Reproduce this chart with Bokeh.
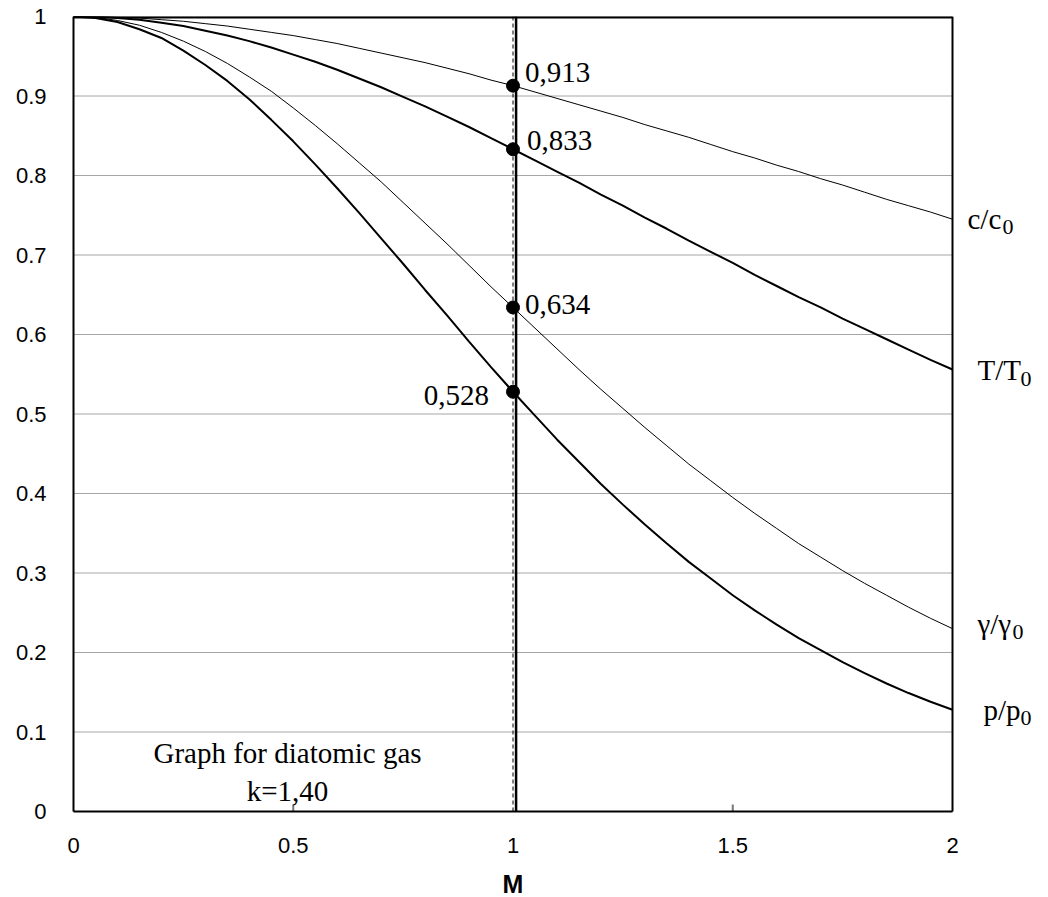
import math
from bokeh.plotting import figure
from bokeh.models import Label, FixedTicker, Range1d
from bokeh.embed import file_html
from bokeh.resources import INLINE

# ---- data ----
mach = [0.00, 0.05, 0.10, 0.15, 0.20, 0.25, 0.30, 0.35, 0.40, 0.45,
        0.50, 0.55, 0.60, 0.65, 0.70, 0.75, 0.80, 0.85, 0.90, 0.95,
        1.00, 1.05, 1.10, 1.15, 1.20, 1.25, 1.30, 1.35, 1.40, 1.45,
        1.50, 1.55, 1.60, 1.65, 1.70, 1.75, 1.80, 1.85, 1.90, 1.95, 2.00]
c_c0 = [1.000, 1.000, 0.999, 0.998, 0.996, 0.994, 0.991, 0.988, 0.984, 0.980,
        0.976, 0.971, 0.966, 0.960, 0.954, 0.948, 0.942, 0.935, 0.928, 0.920,
        0.913, 0.905, 0.897, 0.889, 0.881, 0.873, 0.864, 0.856, 0.848, 0.839,
        0.830, 0.822, 0.813, 0.805, 0.796, 0.788, 0.779, 0.770, 0.762, 0.754, 0.745]
T_T0 = [1.000, 1.000, 0.998, 0.996, 0.992, 0.988, 0.982, 0.976, 0.969, 0.961,
        0.952, 0.943, 0.933, 0.922, 0.911, 0.899, 0.887, 0.874, 0.861, 0.847,
        0.833, 0.819, 0.805, 0.791, 0.776, 0.762, 0.747, 0.733, 0.718, 0.704,
        0.690, 0.675, 0.661, 0.647, 0.634, 0.620, 0.607, 0.594, 0.581, 0.568, 0.556]
g_g0 = [1.000, 0.999, 0.995, 0.989, 0.980, 0.969, 0.956, 0.941, 0.924, 0.906,
        0.885, 0.863, 0.840, 0.816, 0.792, 0.766, 0.740, 0.714, 0.687, 0.660,
        0.634, 0.608, 0.582, 0.556, 0.531, 0.507, 0.483, 0.460, 0.437, 0.416,
        0.395, 0.375, 0.356, 0.337, 0.320, 0.303, 0.287, 0.272, 0.257, 0.243, 0.230]
p_p0 = [1.000, 0.998, 0.993, 0.984, 0.973, 0.957, 0.939, 0.919, 0.896, 0.870,
        0.843, 0.814, 0.784, 0.753, 0.721, 0.689, 0.656, 0.624, 0.591, 0.559,
        0.528, 0.498, 0.468, 0.440, 0.412, 0.386, 0.361, 0.337, 0.314, 0.293,
        0.272, 0.253, 0.235, 0.218, 0.203, 0.188, 0.174, 0.161, 0.149, 0.138, 0.128]

critical_mach = [1.0, 1.0, 1.0, 1.0]
critical_values = [0.913, 0.833, 0.634, 0.528]
critical_texts = ["0,913", "0,833", "0,634", "0,528"]

curve_names = ["c/c", "T/T", "\u03b3/\u03b3", "p/p"]
curve_subscripts = ["0", "0", "0", "0"]

x_ticks = [0, 0.5, 1, 1.5, 2]
x_tick_labels = ["0", "0.5", "1", "1.5", "2"]
x_inner_ticks = [0.5, 1.5]
y_ticks = [0, 0.1, 0.2, 0.3, 0.4, 0.5, 0.6, 0.7, 0.8, 0.9, 1]
y_tick_labels = ["0", "0.1", "0.2", "0.3", "0.4", "0.5", "0.6", "0.7", "0.8", "0.9", "1"]

x_axis_title = "M"
note_lines = ["Graph for diatomic gas", "k=1,40"]

SERIF = "Liberation Serif"
SANS = "Liberation Sans"

# Pixel layout: plotted area 879 x 795 px; the frame is widened on every
# side except the top so that tick labels, curve names and the axis title
# can be placed freely inside it.  The plotted area gets its own border.
PX_X = 879 / 2.0      # px per unit of M
PX_Y = 795 / 1.0      # px per unit of ratio
p = figure(width=1040, height=897, output_backend="svg", toolbar_location=None,
           x_range=Range1d(-13 / PX_X, (1040 - 73) / PX_X),
           y_range=Range1d(-86 / PX_Y, 1),
           x_axis_location=None,
           min_border_left=60, min_border_top=16, min_border_right=0,
           min_border_bottom=0)
p.background_fill_color = "white"
p.border_fill_color = "white"
p.outline_line_color = None
p.xgrid.grid_line_color = None
p.ygrid.grid_line_color = None

# horizontal grid across the plotted area only
p.segment(x0=[x_ticks[0]] * len(y_ticks), x1=[x_ticks[-1]] * len(y_ticks),
          y0=y_ticks, y1=y_ticks, line_color="#a6a6a6", line_width=1)

# y axis
p.yaxis.ticker = FixedTicker(ticks=y_ticks)
p.yaxis.major_label_overrides = {t: l for t, l in zip(y_ticks, y_tick_labels)}
p.yaxis.axis_line_color = None
p.yaxis.minor_tick_line_color = None
p.yaxis.major_tick_line_color = None
p.yaxis.major_label_text_font = SANS
p.yaxis.major_label_text_font_size = "22px"
p.yaxis.major_label_text_color = "black"
p.yaxis.major_label_standoff = 8

# x axis: inner tick marks, tick labels and title
p.ray(x=x_inner_ticks, y=[y_ticks[0]] * len(x_inner_ticks), length=7,
      length_units="screen", angle=math.pi / 2, line_color="#777777", line_width=2)
for t, l in zip(x_ticks, x_tick_labels):
    p.add_layout(Label(x=t, y=y_ticks[0], text=l, y_offset=-34, text_align="center",
                       text_baseline="middle", text_font=SANS, text_font_size="22px",
                       text_color="black"))
p.add_layout(Label(x=x_ticks[2], y=y_ticks[0], text=x_axis_title, y_offset=-72,
                   text_align="center", text_baseline="middle", text_font=SANS,
                   text_font_style="bold", text_font_size="25px", text_color="black"))

# vertical lines at M = 1
p.segment(x0=[1.0], x1=[1.0], y0=[y_ticks[0]], y1=[y_ticks[-1]], line_color="black",
          line_width=1, line_dash="4 3")
p.segment(x0=[1.007], x1=[1.007], y0=[y_ticks[0]], y1=[y_ticks[-1]], line_color="black",
          line_width=2.5)

# curves
p.line(mach, c_c0, line_color="black", line_width=1)
p.line(mach, T_T0, line_color="black", line_width=2)
p.line(mach, g_g0, line_color="black", line_width=1)
p.line(mach, p_p0, line_color="black", line_width=2)

# border of the plotted area (top edge is the frame edge, so drawn wider)
p.segment(x0=[x_ticks[0], x_ticks[-1]], x1=[x_ticks[0], x_ticks[-1]],
          y0=[y_ticks[0], y_ticks[0]], y1=[y_ticks[-1], y_ticks[-1]],
          line_color="black", line_width=2)
p.segment(x0=[x_ticks[0], x_ticks[0]], x1=[x_ticks[-1], x_ticks[-1]],
          y0=[y_ticks[0], y_ticks[-1]], y1=[y_ticks[0], y_ticks[-1]],
          line_color="black", line_width=[2, 4])

# critical points
p.scatter(critical_mach, critical_values, size=13, color="black")

label_offsets = [(12, 13, "left"), (14, 9, "left"), (12, 3, "left"), (-24, -4, "right")]
for mx, v, t, (dx, dy, al) in zip(critical_mach, critical_values, critical_texts, label_offsets):
    p.add_layout(Label(x=mx, y=v, text=t, x_offset=dx, y_offset=dy,
                       text_align=al, text_baseline="middle",
                       text_font=SERIF, text_font_size="29px", text_color="black"))

# curve end labels
ends = [c_c0[-1], T_T0[-1], g_g0[-1], p_p0[-1]]
name_offsets = [(15, 0, 50, -8), (25, -1, 68, -10), (25, 5, 60, -3), (31, 0, 68, -8)]
for v, name, sub, (dx, dy, sdx, sdy) in zip(ends, curve_names, curve_subscripts, name_offsets):
    p.add_layout(Label(x=mach[-1], y=v, text=name, x_offset=dx, y_offset=dy,
                       text_align="left", text_baseline="middle",
                       text_font=SERIF, text_font_size="29px", text_color="black"))
    p.add_layout(Label(x=mach[-1], y=v, text=sub, x_offset=sdx, y_offset=sdy,
                       text_align="left", text_baseline="middle",
                       text_font=SERIF, text_font_size="22px", text_color="black"))

# note
p.add_layout(Label(x=0.487, y=0.0742, text=note_lines[0], text_align="center",
                   text_baseline="middle", text_font=SERIF, text_font_size="29px",
                   text_color="black"))
p.add_layout(Label(x=0.487, y=0.0264, text=note_lines[1], text_align="center",
                   text_baseline="middle", text_font=SERIF, text_font_size="29px",
                   text_color="black"))

open("out.html", "w").write(file_html(p, INLINE))
